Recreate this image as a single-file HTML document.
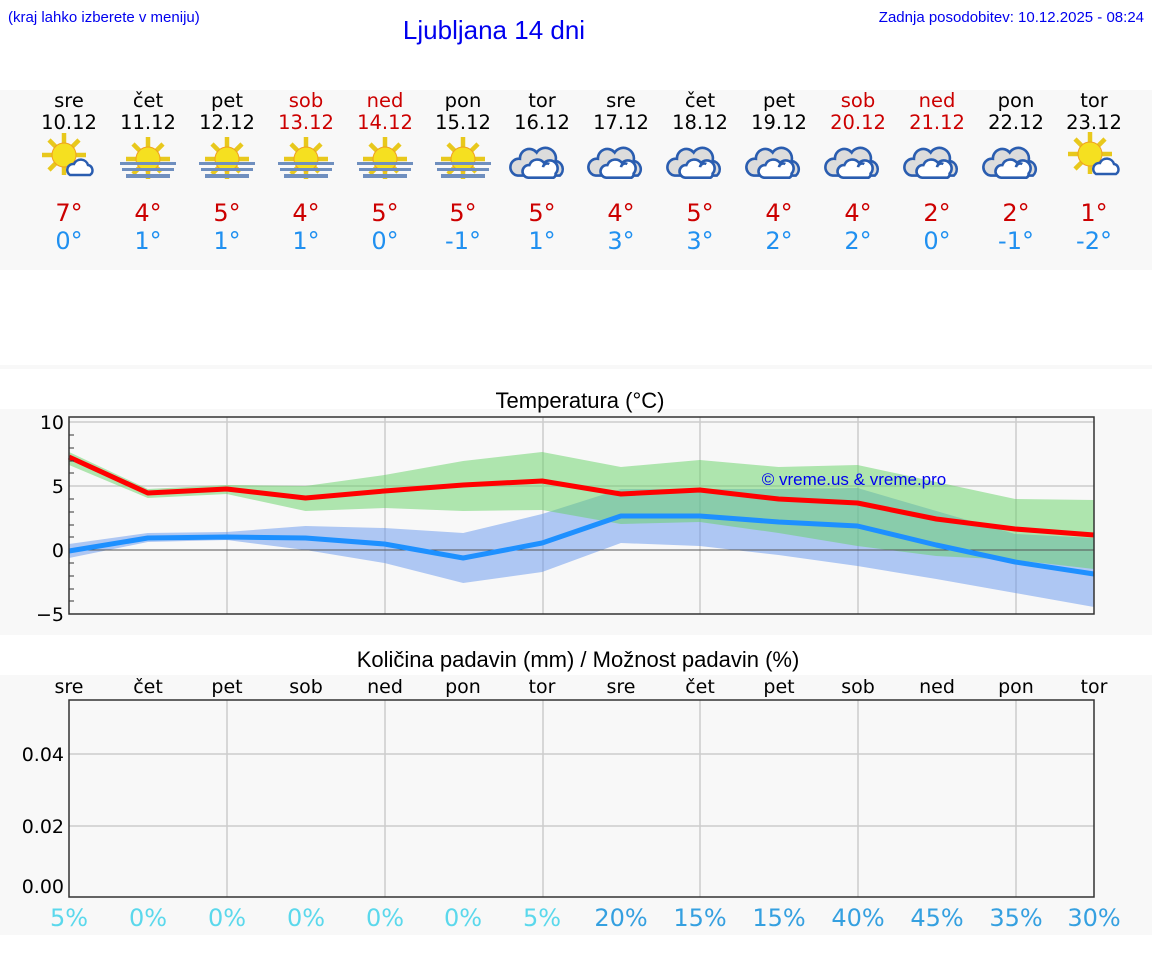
<!DOCTYPE html>
<html><head><meta charset="utf-8"><style>
html,body{margin:0;padding:0;background:#fff;width:1152px;height:975px;overflow:hidden}
svg{display:block}
.d{font-family:"DejaVu Sans",sans-serif}
.l{font-family:"Liberation Sans",Arial,sans-serif}
</style></head><body>
<svg width="1152" height="975" viewBox="0 0 1152 975" xmlns="http://www.w3.org/2000/svg">
<defs>
<g id="sun">
 <g stroke="#e8c81c" stroke-width="4.5" stroke-linecap="butt">
  <line x1="0" y1="-10" x2="0" y2="-22"/><line x1="7" y1="-7" x2="15" y2="-15"/><line x1="10" y1="0" x2="22" y2="0"/>
  <line x1="-7" y1="-7" x2="-15" y2="-15"/><line x1="-10" y1="0" x2="-22" y2="0"/><line x1="-7" y1="7" x2="-15" y2="15"/>
  <line x1="7" y1="7" x2="13" y2="13"/><line x1="0" y1="10" x2="0" y2="20"/>
 </g>
 <circle r="12" fill="#f5e020" stroke="#f0a020" stroke-width="1"/>
</g>
<g id="suncloud">
 <use href="#sun" transform="translate(-4,-4)"/>
 <path d="M2 16 a6 6 0 0 1 4 -11 a7.5 7.5 0 0 1 14 1 a5.5 5.5 0 0 1 2 10 z" fill="#fff" stroke="#2a5db0" stroke-width="2.5"/>
</g>
<g id="fog">
 <use href="#sun" transform="translate(0,-2)"/>
 <rect x="-28" y="1" width="56" height="3" fill="#6f8fbf"/>
 <rect x="-26" y="7" width="52" height="3" fill="#6f8fbf"/>
 <rect x="-22" y="13" width="44" height="4" fill="#6f8fbf"/>
</g>
<g id="cloud">
 <path d="M-24 12 a8 8 0 0 1 2 -16 a9 9 0 0 1 16 -6 a10 10 0 0 1 18 8 a8 8 0 0 1 4 14 z" fill="#dcdcdc" stroke="#2a5db0" stroke-width="2.5"/>
 <path d="M-14 14 a6 6 0 0 1 1 -12 a8 8 0 0 1 14 -2 a7 7 0 0 1 11 10 a4 4 0 0 1 -2 4 z" fill="#fff" stroke="#2a5db0" stroke-width="2.5"/>
 <path d="M0 4 a4 4 0 0 1 6 -3" fill="none" stroke="#2a5db0" stroke-width="2.5"/>
</g>
</defs>

<text x="8" y="22" class="l" font-size="15" fill="#0000ee">(kraj lahko izberete v meniju)</text>
<text x="494" y="39" class="l" font-size="26" fill="#0000ee" text-anchor="middle">Ljubljana 14 dni</text>
<text x="1144" y="22" class="l" font-size="15" fill="#0000ee" text-anchor="end">Zadnja posodobitev: 10.12.2025 - 08:24</text>

<rect x="0" y="90" width="1152" height="180" fill="#f8f8f8"/>
<rect x="0" y="365" width="1152" height="4" fill="#f8f8f8"/>
<rect x="0" y="409" width="1152" height="226" fill="#f8f8f8"/>
<rect x="0" y="675" width="1152" height="260" fill="#f8f8f8"/>

<g class="d" font-size="19.5" text-anchor="middle">
<g fill="#000"><text x="69" y="107">sre</text><text x="148" y="107">čet</text><text x="227" y="107">pet</text><text x="463" y="107">pon</text><text x="542" y="107">tor</text><text x="621" y="107">sre</text><text x="700" y="107">čet</text><text x="779" y="107">pet</text><text x="1016" y="107">pon</text><text x="1094" y="107">tor</text>
<text x="69" y="129">10.12</text><text x="148" y="129">11.12</text><text x="227" y="129">12.12</text><text x="463" y="129">15.12</text><text x="542" y="129">16.12</text><text x="621" y="129">17.12</text><text x="700" y="129">18.12</text><text x="779" y="129">19.12</text><text x="1016" y="129">22.12</text><text x="1094" y="129">23.12</text></g>
<g fill="#cc0000"><text x="306" y="107">sob</text><text x="385" y="107">ned</text><text x="858" y="107">sob</text><text x="937" y="107">ned</text>
<text x="306" y="129">13.12</text><text x="385" y="129">14.12</text><text x="858" y="129">20.12</text><text x="937" y="129">21.12</text></g>
</g>

<use href="#suncloud" transform="translate(68,159)"/>
<use href="#fog" transform="translate(148,161)"/>
<use href="#fog" transform="translate(227,161)"/>
<use href="#fog" transform="translate(306,161)"/>
<use href="#fog" transform="translate(385,161)"/>
<use href="#fog" transform="translate(463,161)"/>
<use href="#cloud" transform="translate(543,163) scale(1.05)"/>
<use href="#cloud" transform="translate(621,163) scale(1.05)"/>
<use href="#cloud" transform="translate(700,163) scale(1.05)"/>
<use href="#cloud" transform="translate(779,163) scale(1.05)"/>
<use href="#cloud" transform="translate(858,163) scale(1.05)"/>
<use href="#cloud" transform="translate(937,163) scale(1.05)"/>
<use href="#cloud" transform="translate(1016,163) scale(1.05)"/>
<use href="#suncloud" transform="translate(1094,158)"/>

<g class="d" font-size="24" text-anchor="middle">
<g fill="#cc0000"><text x="69" y="221">7°</text><text x="148" y="221">4°</text><text x="227" y="221">5°</text><text x="306" y="221">4°</text><text x="385" y="221">5°</text><text x="463" y="221">5°</text><text x="542" y="221">5°</text><text x="621" y="221">4°</text><text x="700" y="221">5°</text><text x="779" y="221">4°</text><text x="858" y="221">4°</text><text x="937" y="221">2°</text><text x="1016" y="221">2°</text><text x="1094" y="221">1°</text></g>
<g fill="#2090f0"><text x="69" y="249">0°</text><text x="148" y="249">1°</text><text x="227" y="249">1°</text><text x="306" y="249">1°</text><text x="385" y="249">0°</text><text x="463" y="249">-1°</text><text x="542" y="249">1°</text><text x="621" y="249">3°</text><text x="700" y="249">3°</text><text x="779" y="249">2°</text><text x="858" y="249">2°</text><text x="937" y="249">0°</text><text x="1016" y="249">-1°</text><text x="1094" y="249">-2°</text></g>
</g>

<!-- Temperature chart -->
<text x="580" y="408" class="l" font-size="22" text-anchor="middle" fill="#000">Temperatura (°C)</text>
<rect x="69" y="417" width="1025" height="197" fill="#f8f8f8"/>
<g stroke="#ccc" stroke-width="1.5">
<line x1="69" y1="422" x2="1094" y2="422"/><line x1="69" y1="486" x2="1094" y2="486"/>
<line x1="227" y1="417" x2="227" y2="614"/><line x1="385" y1="417" x2="385" y2="614"/><line x1="543" y1="417" x2="543" y2="614"/><line x1="700" y1="417" x2="700" y2="614"/><line x1="858" y1="417" x2="858" y2="614"/><line x1="1016" y1="417" x2="1016" y2="614"/>
</g>
<polygon fill="rgb(100,149,237)" fill-opacity="0.5" points="69,544 147.8,533 226.7,532 305.5,526 384.4,528 463.2,533 542.1,514 620.9,489 699.8,489 778.6,489 857.5,488 936.3,511 1015.2,534 1094,538 1094,607 1015.2,593 936.3,579 857.5,566 778.6,555 699.8,546 620.9,543 542.1,572 463.2,583 384.4,563 305.5,550 226.7,540 147.8,542 69,558"/>
<polygon fill="rgb(100,210,100)" fill-opacity="0.5" points="69,452 147.8,489 226.7,485 305.5,486 384.4,475 463.2,461 542.1,452 620.9,467 699.8,460 778.6,467 857.5,465 936.3,482 1015.2,499 1094,500 1094,569 1015.2,560 936.3,556 857.5,546 778.6,533 699.8,522 620.9,524 542.1,510 463.2,511 384.4,508 305.5,511 226.7,494 147.8,498 69,465"/>
<line x1="69" y1="550" x2="1094" y2="550" stroke="#555" stroke-width="1"/>
<polyline fill="none" stroke="#ff0000" stroke-width="5" stroke-linejoin="round" points="69,457 147.8,493 226.7,489 305.5,498 384.4,491 463.2,485 542.1,481 620.9,494 699.8,490 778.6,499 857.5,503 936.3,519 1015.2,529 1094,535"/>
<polyline fill="none" stroke="#1e90ff" stroke-width="5" stroke-linejoin="round" points="69,551 147.8,538 226.7,537 305.5,538 384.4,544 463.2,558 542.1,543 620.9,516 699.8,516 778.6,522 857.5,526 936.3,545 1015.2,562 1094,574"/>
<text x="854" y="485" class="l" font-size="17" fill="#0000ee" text-anchor="middle">© vreme.us &amp; vreme.pro</text>
<rect x="69" y="417" width="1025" height="197" fill="none" stroke="#333" stroke-width="1.5"/>
<g stroke="#333" stroke-width="1">
<line x1="69" y1="435" x2="74" y2="435"/><line x1="69" y1="448" x2="74" y2="448"/><line x1="69" y1="461" x2="74" y2="461"/><line x1="69" y1="473" x2="74" y2="473"/>
<line x1="69" y1="499" x2="74" y2="499"/><line x1="69" y1="512" x2="74" y2="512"/><line x1="69" y1="525" x2="74" y2="525"/><line x1="69" y1="537" x2="74" y2="537"/>
<line x1="69" y1="563" x2="74" y2="563"/><line x1="69" y1="576" x2="74" y2="576"/><line x1="69" y1="589" x2="74" y2="589"/><line x1="69" y1="601" x2="74" y2="601"/>
</g>
<g class="d" font-size="19" text-anchor="end" fill="#000">
<text x="64" y="429">10</text><text x="64" y="493">5</text><text x="64" y="557">0</text><text x="64" y="621">−5</text>
</g>

<!-- Precip chart -->
<text x="578" y="667" class="l" font-size="22" text-anchor="middle" fill="#000">Količina padavin (mm) / Možnost padavin (%)</text>
<g class="d" font-size="19" text-anchor="middle" fill="#000">
<text x="69" y="693">sre</text><text x="148" y="693">čet</text><text x="227" y="693">pet</text><text x="306" y="693">sob</text><text x="385" y="693">ned</text><text x="463" y="693">pon</text><text x="542" y="693">tor</text><text x="621" y="693">sre</text><text x="700" y="693">čet</text><text x="779" y="693">pet</text><text x="858" y="693">sob</text><text x="937" y="693">ned</text><text x="1016" y="693">pon</text><text x="1094" y="693">tor</text>
</g>
<g stroke="#ccc" stroke-width="1.5">
<line x1="69" y1="754" x2="1094" y2="754"/><line x1="69" y1="826" x2="1094" y2="826"/>
<line x1="227" y1="700" x2="227" y2="897"/><line x1="385" y1="700" x2="385" y2="897"/><line x1="543" y1="700" x2="543" y2="897"/><line x1="700" y1="700" x2="700" y2="897"/><line x1="858" y1="700" x2="858" y2="897"/><line x1="1016" y1="700" x2="1016" y2="897"/>
</g>
<rect x="69" y="700" width="1025" height="197" fill="none" stroke="#333" stroke-width="1.5"/>
<g class="d" font-size="19" text-anchor="end" fill="#000">
<text x="64" y="761">0.04</text><text x="64" y="833">0.02</text><text x="64" y="893">0.00</text>
</g>
<g class="d" font-size="24" text-anchor="middle">
<g fill="#5bd8ec"><text x="69" y="926">5%</text><text x="148" y="926">0%</text><text x="227" y="926">0%</text><text x="306" y="926">0%</text><text x="385" y="926">0%</text><text x="463" y="926">0%</text><text x="542" y="926">5%</text></g>
<g fill="#35a0e0"><text x="621" y="926">20%</text><text x="700" y="926">15%</text><text x="779" y="926">15%</text><text x="858" y="926">40%</text><text x="937" y="926">45%</text><text x="1016" y="926">35%</text><text x="1094" y="926">30%</text></g>
</g>
</svg>
</body></html>
